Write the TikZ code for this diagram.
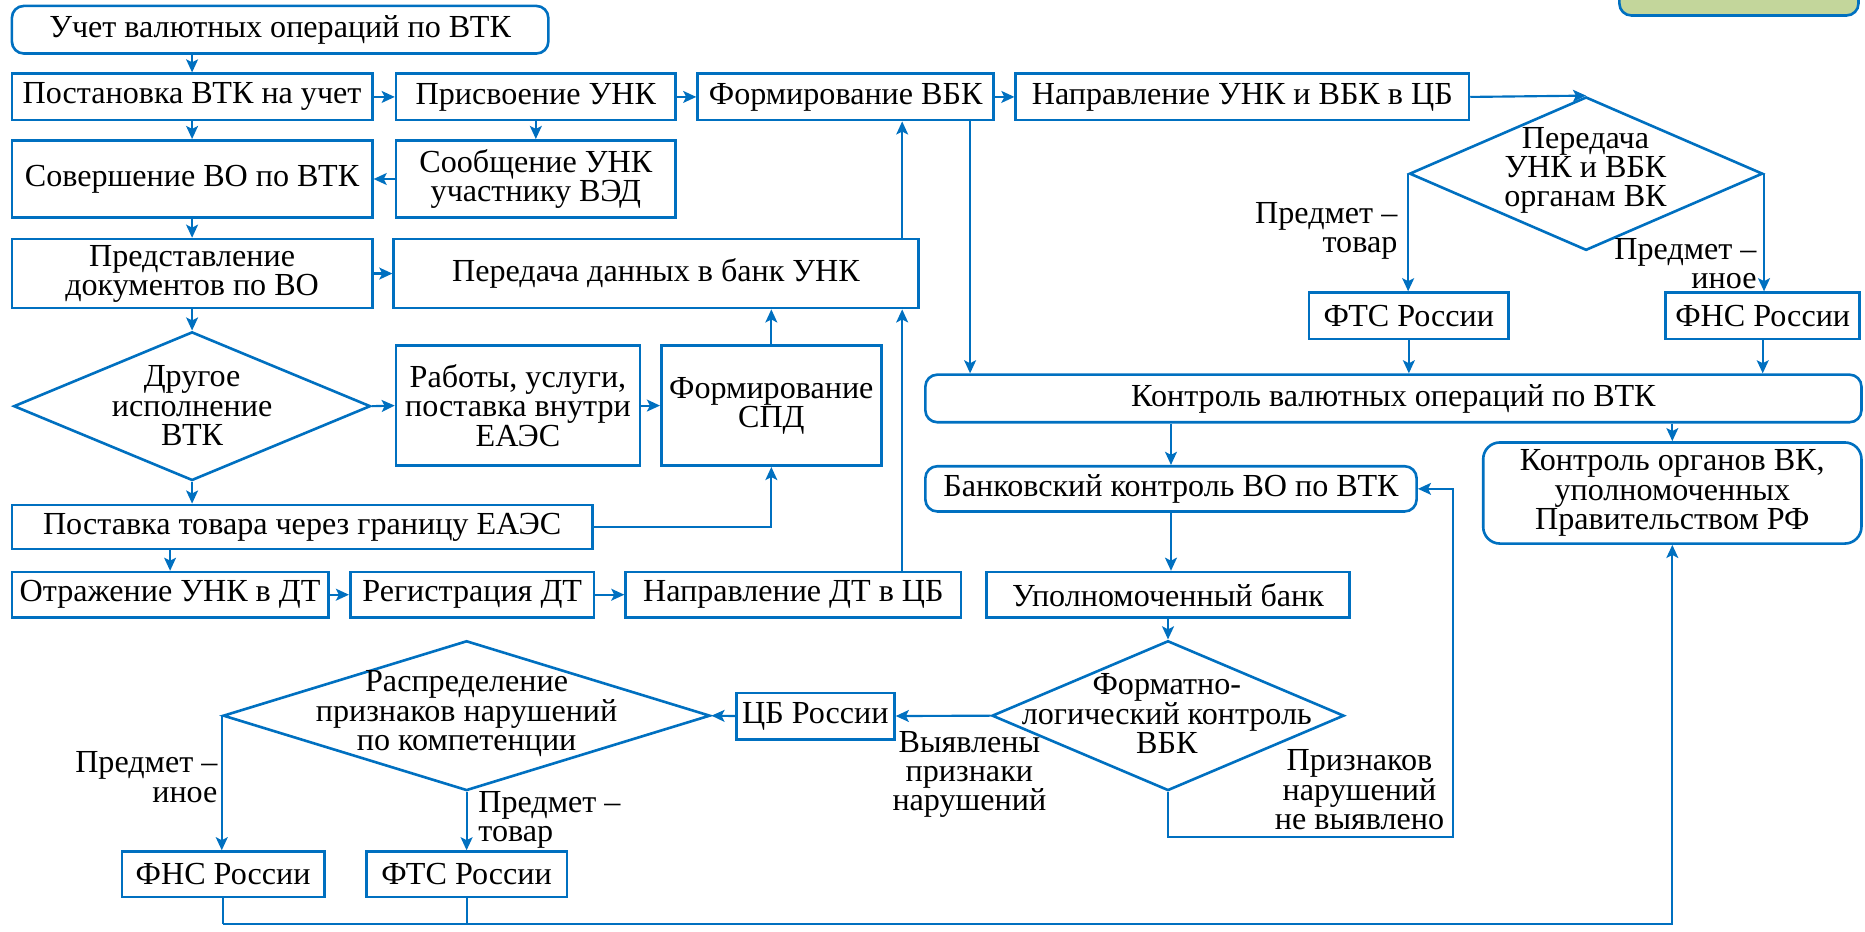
\documentclass[tikz,border=0pt]{standalone}
\usepackage{fontspec}
\setmainfont{Liberation Serif}
\newfontfamily\rusfont{Liberation Serif}
\usetikzlibrary{arrows.meta,shapes.geometric}
\definecolor{bl}{HTML}{0070C0}
\definecolor{gr}{HTML}{C3D69B}
\newcommand\myfs{\rusfont\fontsize{27}{24.5}\selectfont}
\begin{document}
\begin{tikzpicture}[x=1pt,y=-1pt,
  box/.style={draw=bl,line width=2.2pt,inner sep=0pt,align=center,font=\myfs,text=black},
  rbox/.style={box,rounded corners=10pt},
  dia/.style={draw=bl,line width=2.2pt,shape=diamond,inner sep=0pt},
  txt/.style={inner sep=0pt,align=center,font=\myfs,text=black},
  lbl/.style={inner sep=0pt,font=\myfs,text=black},
  arr/.style={draw=bl,line width=1.8pt,-{Stealth[length=11pt,width=10pt,inset=2.5pt]}},
  ln/.style={draw=bl,line width=1.8pt}]
\clip (0,0) rectangle (1568,783);
\useasboundingbox (0,0) rectangle (1568,783);
% top-right green box (cut off)
\node[rbox,fill=gr,minimum width=201pt,minimum height=56pt] (green) at (1462,-15) {};
% left column
\node[rbox,minimum width=451pt,minimum height=40pt] (uchet) at (235.5,25) {Учет валютных операций по ВТК};
\node[box,minimum width=303pt,minimum height=39pt] (post) at (161.5,81.5) {Постановка ВТК на учет};
\node[box,minimum width=235pt,minimum height=39pt] (prisv) at (450.5,81.5) {Присвоение УНК};
\node[box,minimum width=249pt,minimum height=39pt] (formvbk) at (711,81.5) {Формирование ВБК};
\node[box,minimum width=381pt,minimum height=39pt] (napr) at (1044.5,81.5) {Направление УНК и ВБК в ЦБ};
\node[box,minimum width=303pt,minimum height=65pt] (sover) at (161.5,150.5) {Совершение ВО по ВТК};
\node[box,minimum width=235pt,minimum height=65pt] (soob) at (450.5,150.5) {Сообщение УНК\\участнику ВЭД};
\node[box,minimum width=303pt,minimum height=58pt] (pred) at (161.5,230) {Представление\\документов по ВО};
\node[box,minimum width=441pt,minimum height=58pt] (peredD) at (551.5,230) {Передача данных в банк УНК};
\node[dia,minimum width=300pt,minimum height=125pt] (d2) at (161.5,341.5) {};
\node[txt] (d2t) at (161.5,341) {Другое\\исполнение\\ВТК};
\node[box,minimum width=205pt,minimum height=101pt] (rab) at (435.5,341) {Работы, услуги,\\поставка внутри\\ЕАЭС};
\node[box,minimum width=185pt,minimum height=101pt] (spd) at (648.5,341) {Формирование\\СПД};
\node[box,minimum width=488pt,minimum height=37pt] (postav) at (254,443) {Поставка товара через границу ЕАЭС};
\node[box,minimum width=266pt,minimum height=38pt] (otr) at (143,500) {Отражение УНК в ДТ};
\node[box,minimum width=205pt,minimum height=38pt] (reg) at (397,500) {Регистрация ДТ};
\node[box,minimum width=282pt,minimum height=38pt] (naprDT) at (667,500) {Направление ДТ в ЦБ};
% right part
\node[dia,minimum width=297pt,minimum height=129pt] (d1) at (1333.5,146) {};
\node[txt] (d1t) at (1333,143) {Передача\\УНК и ВБК\\органам ВК};
\node[box,minimum width=168pt,minimum height=39pt] (fts1) at (1184.5,265.5) {ФТС России};
\node[box,minimum width=163pt,minimum height=39pt] (fns1) at (1482,265.5) {ФНС России};
\node[rbox,minimum width=787pt,minimum height=40pt] (kontrol) at (1171.5,335) {Контроль валютных операций по ВТК};
\node[rbox,minimum width=413pt,minimum height=38pt] (bank) at (984.5,411) {Банковский контроль ВО по ВТК};
\node[rbox,rounded corners=14pt,minimum width=318pt,minimum height=85pt] (organ) at (1406,414.5) {Контроль органов ВК,\\уполномоченных\\Правительством РФ};
\node[box,minimum width=305pt,minimum height=38pt] (upol) at (982,500) {Уполномоченный банк};
\node[dia,minimum width=296pt,minimum height=126pt] (d3) at (982,601.7) {};
\node[txt] (d3t) at (981,600) {Форматно-\\логический контроль\\ВБК};
\node[box,minimum width=133pt,minimum height=39pt] (cb) at (685.5,602) {ЦБ России};
\node[dia,minimum width=409.5pt,minimum height=126pt] (d4) at (392.3,601.7) {};
\node[txt] (d4t) at (392.3,600) {Распределение\\признаков нарушений\\по компетенции};
\node[box,minimum width=170pt,minimum height=38pt] (fns2) at (187.6,735) {ФНС России};
\node[box,minimum width=168.5pt,minimum height=38pt] (fts2) at (392.3,735) {ФТС России};
% labels
\node[lbl,align=right,anchor=north east] (l1) at (1175,170) {Предмет –\\товар};
\node[lbl,align=right,anchor=north east] (l2) at (1477,200) {Предмет –\\иное};
\node[lbl,align=center] (l3) at (815,651) {Выявлены\\признаки\\нарушений};
\node[lbl,align=center] (l4) at (1143,664) {Признаков\\нарушений\\не выявлено};
\node[lbl,align=right,anchor=north east] (l5) at (183,632) {Предмет –\\иное};
\node[lbl,align=left,anchor=north west] (l6) at (402,665) {Предмет –\\товар};
% coordinates for free line corners
\coordinate (vbkx) at (815.6,0);
\coordinate (pdx) at (758.5,0);
\coordinate (fbx) at (1221.3,0);
\coordinate (boty) at (0,777);
\coordinate (fby) at (0,703.5);
% connectors
\draw[arr] (post.north|-uchet.south) -- (post.north);
\draw[arr] (post.east) -- (prisv.west);
\draw[arr] (prisv.east) -- (formvbk.west);
\draw[arr] (formvbk.east) -- (napr.west);
\draw[arr] (napr.east) -- (d1.north);
\draw[arr] (d1.west) -- (d1.west|-fts1.north);
\draw[arr] (d1.east) -- (d1.east|-fns1.north);
\draw[arr] (fts1.south) -- (fts1.south|-kontrol.north);
\draw[arr] (fns1.south) -- (fns1.south|-kontrol.north);
\draw[arr] (vbkx|-formvbk.south) -- (vbkx|-kontrol.north);
\draw[arr] (prisv.south) -- (soob.north);
\draw[arr] (soob.west) -- (sover.east);
\draw[arr] (post.south) -- (sover.north);
\draw[arr] (sover.south) -- (pred.north);
\draw[arr] (pred.east) -- (peredD.west);
\draw[arr] (pred.south) -- (d2.north);
\draw[arr] (pdx|-peredD.north) -- (pdx|-formvbk.south);
\draw[arr] (d2.east) -- (rab.west);
\draw[arr] (rab.east) -- (spd.west);
\draw[arr] (spd.north) -- (spd.north|-peredD.south);
\draw[arr] (d2.south) -- (d2.south|-postav.north);
\draw[arr] (postav.east) -| (spd.south);
\draw[arr] (otr.north|-postav.south) -- (otr.north);
\draw[arr] (otr.east) -- (reg.west);
\draw[arr] (reg.east) -- (naprDT.west);
\draw[arr] (pdx|-naprDT.north) -- (pdx|-peredD.south);
\draw[arr] (bank.north|-kontrol.south) -- (bank.north);
\draw[arr] (organ.north|-kontrol.south) -- (organ.north);
\draw[arr] (bank.south) -- (bank.south|-upol.north);
\draw[arr] (upol.south) -- (upol.south|-d3.north);
\draw[arr] (d3.west) -- (cb.east);
\draw[arr] (cb.west) -- (d4.east);
\draw[arr] (d4.west) -- (d4.west|-fns2.north);
\draw[arr] (d4.south) -- (fts2.north);
\draw[ln] (fns2.south) -- (fns2.south|-boty);
\draw[ln] (fts2.south) -- (fts2.south|-boty);
\draw[arr] (fns2.south|-boty) -| (organ.south);
\draw[arr] (d3.south) -- (d3.south|-fby) -| (fbx|-bank.east) -- (bank.east);
\end{tikzpicture}
\end{document}
